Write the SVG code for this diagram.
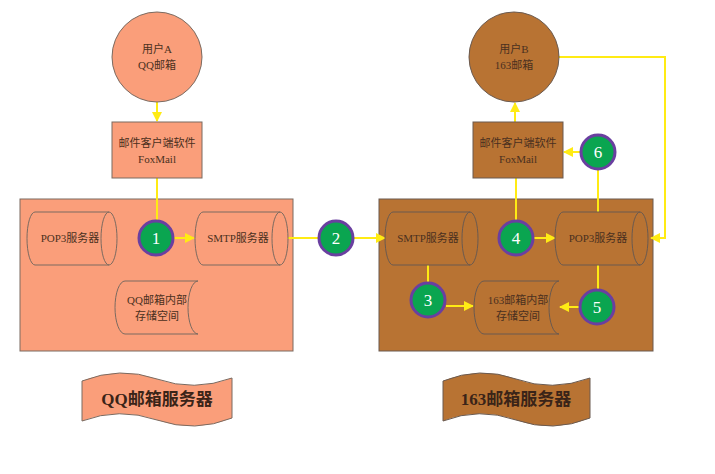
<svg xmlns="http://www.w3.org/2000/svg" width="715" height="474" viewBox="0 0 715 474">
<defs>
<marker id="ar" viewBox="0 0 10 10" refX="9" refY="5" markerWidth="5" markerHeight="5" orient="auto"><path d="M0,0 L10,5 L0,10 Z" fill="#FFEB14"/></marker>
<style>
.t{font-family:"Liberation Serif","Noto Sans CJK SC",serif;font-size:11px;fill:#4a3020;text-anchor:middle}
.n{font-family:"Liberation Serif",serif;font-size:17px;fill:#fff;text-anchor:middle}
.sa{fill:#FA9E7A;stroke:#7a6a60;stroke-width:1}
.sb{fill:#B87333;stroke:#6a5a50;stroke-width:1}
.num{fill:#0AA550;stroke:#6A3FA0;stroke-width:3}
.c{stroke:#FFEB14;stroke-width:2;fill:none}
.bt{font-family:"Liberation Serif","Noto Sans CJK SC",serif;font-size:17px;font-weight:bold;fill:#3a2418;text-anchor:middle}
</style>
</defs>
<rect width="715" height="474" fill="#fff"/>
<g id="serverA"><rect x="20" y="199" width="273" height="152" class="sa"/></g>
<g id="serverB"><rect x="379" y="199" width="274" height="152" class="sb"/></g>
<g id="connectors">
<line x1="157" y1="102" x2="157" y2="121" class="c" marker-end="url(#ar)"/>
<line x1="157" y1="178" x2="157" y2="220" class="c"/>
<line x1="174" y1="238" x2="194" y2="238" class="c" marker-end="url(#ar)"/>
<line x1="288" y1="238" x2="318" y2="238" class="c"/>
<line x1="354" y1="238" x2="385" y2="238" class="c" marker-end="url(#ar)"/>
<line x1="428" y1="265" x2="428" y2="282" class="c"/>
<line x1="446" y1="306" x2="473" y2="306" class="c" marker-end="url(#ar)"/>
<line x1="516" y1="178" x2="516" y2="220" class="c"/>
<line x1="534" y1="238" x2="555" y2="238" class="c" marker-end="url(#ar)"/>
<line x1="598" y1="265" x2="598" y2="289" class="c"/>
<line x1="579" y1="307" x2="560" y2="307" class="c" marker-end="url(#ar)"/>
<line x1="598" y1="170" x2="598" y2="212" class="c"/>
<line x1="580" y1="152" x2="564" y2="152" class="c" marker-end="url(#ar)"/>
<line x1="515" y1="122" x2="515" y2="103" class="c" marker-end="url(#ar)"/>
<polyline points="559,57 665,57 665,238 651,238" class="c" marker-end="url(#ar)"/>
</g>
<g id="userA"><circle cx="157" cy="57" r="45" class="sa"/><text class="t" x="157" y="53">用户A</text><text class="t" x="157" y="69">QQ邮箱</text></g>
<g id="clientA"><rect x="112" y="122" width="90" height="56" class="sa"/><text class="t" x="157" y="147">邮件客户端软件</text><text class="t" x="157" y="163">FoxMail</text></g>
<g id="pop3A"><path d="M35 212 H109 A8 26.5 0 0 1 109 265 H35 A8 26.5 0 0 1 35 212 Z M109 212 A8 26.5 0 0 0 109 265" class="sa"/><text class="t" x="70" y="242">POP3服务器</text></g>
<g id="smtpA"><path d="M203 212 H280 A8 26.5 0 0 1 280 265 H203 A8 26.5 0 0 1 203 212 Z M280 212 A8 26.5 0 0 0 280 265" class="sa"/><text class="t" x="238" y="242">SMTP服务器</text></g>
<g id="storeA"><path d="M125 281 H198 A10 26.5 0 0 0 198 334 H125 A10 26.5 0 0 1 125 281 Z" class="sa"/><text class="t" x="157" y="304">QQ邮箱内部</text><text class="t" x="157" y="320">存储空间</text></g>
<g id="userB"><circle cx="514" cy="57" r="45" class="sb"/><text class="t" x="514" y="53">用户B</text><text class="t" x="514" y="69">163邮箱</text></g>
<g id="clientB"><rect x="473" y="122" width="90" height="56" class="sb"/><text class="t" x="518" y="147">邮件客户端软件</text><text class="t" x="518" y="163">FoxMail</text></g>
<g id="smtpB"><path d="M393 212 H470 A8 26.5 0 0 1 470 265 H393 A8 26.5 0 0 1 393 212 Z M470 212 A8 26.5 0 0 0 470 265" class="sb"/><text class="t" x="428" y="242">SMTP服务器</text></g>
<g id="pop3B"><path d="M563 212 H640 A8 26.5 0 0 1 640 265 H563 A8 26.5 0 0 1 563 212 Z M640 212 A8 26.5 0 0 0 640 265" class="sb"/><text class="t" x="598" y="242">POP3服务器</text></g>
<g id="storeB"><path d="M484 281 H559 A10 26.5 0 0 0 559 334 H484 A10 26.5 0 0 1 484 281 Z" class="sb"/><text class="t" x="518" y="304">163邮箱内部</text><text class="t" x="518" y="320">存储空间</text></g>
<g id="n1"><circle cx="156" cy="238" r="17" class="num"/><text class="n" x="156" y="244">1</text></g>
<g id="n2"><circle cx="336" cy="238" r="17" class="num"/><text class="n" x="336" y="244">2</text></g>
<g id="n3"><circle cx="428" cy="300" r="17" class="num"/><text class="n" x="428" y="306">3</text></g>
<g id="n4"><circle cx="516" cy="238" r="17" class="num"/><text class="n" x="516" y="244">4</text></g>
<g id="n5"><circle cx="597" cy="307" r="17" class="num"/><text class="n" x="597" y="313">5</text></g>
<g id="n6"><circle cx="598" cy="152" r="17" class="num"/><text class="n" x="598" y="158">6</text></g>
<g id="bannerA"><path d="M82 381 Q120 366 157 379 T232 378 V418 Q195 433 157 420 T82 421 Z" class="sa"/><text class="bt" x="157" y="405">QQ邮箱服务器</text></g>
<g id="bannerB"><path d="M443 381 Q480 366 516 379 T590 378 V418 Q553 433 516 420 T443 421 Z" class="sb"/><text class="bt" x="516" y="405">163邮箱服务器</text></g>
</svg>
